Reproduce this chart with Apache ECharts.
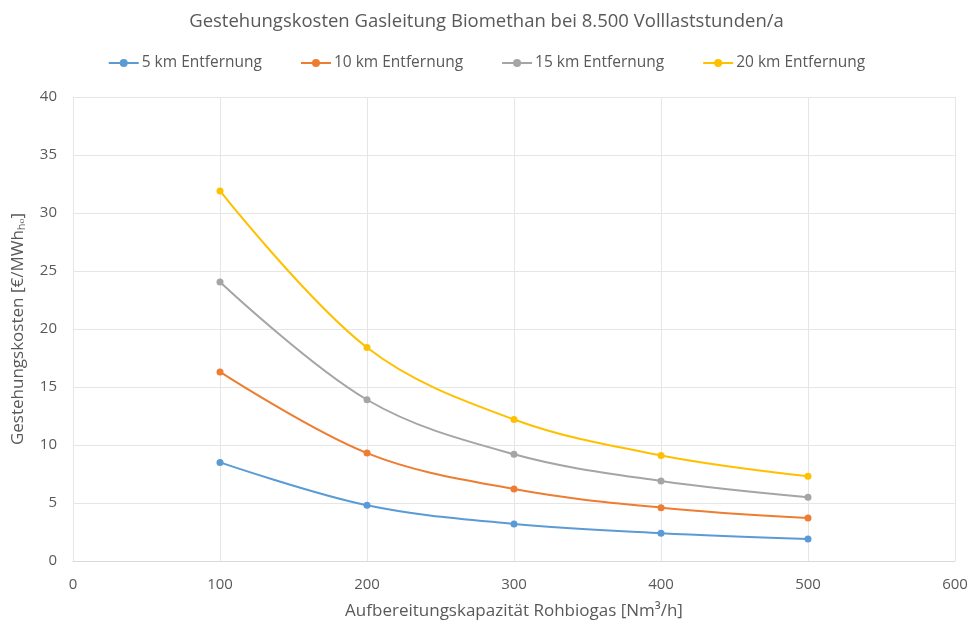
<!DOCTYPE html>
<html><head><meta charset="utf-8">
<script src="https://cdn.jsdelivr.net/npm/echarts@6/dist/echarts.min.js"></script>
<style>html,body{margin:0;padding:0;background:#fff}#c{width:973px;height:626px}</style>
</head><body><div id="c"></div>
<script>
const capacities = [100, 200, 300, 400, 500];
const km5 = [8.5, 4.8, 3.2, 2.4, 1.9];
const km10 = [16.3, 9.3, 6.2, 4.6, 3.7];
const km15 = [24.05, 13.9, 9.2, 6.9, 5.5];
const km20 = [31.9, 18.4, 12.2, 9.1, 7.3];
const seriesNames = ['5 km Entfernung', '10 km Entfernung', '15 km Entfernung', '20 km Entfernung'];
const colors = ['#5b9bd5', '#ed7d31', '#a5a5a5', '#ffc000'];
const allData = [km5, km10, km15, km20];
const FONT = 'Open Sans';
const chart = echarts.init(document.getElementById('c'));
chart.setOption({
  animation: false,
  title: { text: 'Gestehungskosten Gasleitung Biomethan bei 8.500 Volllaststunden/a', left: 'center', top: 7,
    textStyle: { fontFamily: FONT, fontSize: 18.5, fontWeight: 'normal', color: '#595959' } },
  legend: { top: 50, left: 'center', itemGap: 38, itemWidth: 30, itemHeight: 10,
    textStyle: { fontFamily: FONT, fontSize: 15.5, color: '#595959', padding: [0,0,0,-2] },
    data: seriesNames },
  grid: { left: 73, right: 18, top: 97, bottom: 65, containLabel: false },
  xAxis: { type: 'value', min: 0, max: 600, interval: 100,
    name: 'Aufbereitungskapazität Rohbiogas [Nm³/h]', nameLocation: 'middle', nameGap: 42,
    nameTextStyle: { fontFamily: FONT, fontSize: 17, color: '#595959' },
    axisLine: { show: true, lineStyle: { color: '#d9d9d9' } }, axisTick: { show: false },
    axisLabel: { fontFamily: FONT, fontSize: 15, color: '#595959', margin: 16 },
    splitLine: { show: true, lineStyle: { color: '#e6e6e6' } } },
  yAxis: { type: 'value', min: 0, max: 40, interval: 5,
    name: 'Gestehungskosten [€/MWhₕₒ]', nameLocation: 'middle', nameGap: 46,
    nameTextStyle: { fontFamily: FONT, fontSize: 17, color: '#595959' },
    axisLine: { show: false }, axisTick: { show: false },
    axisLabel: { fontFamily: FONT, fontSize: 15, color: '#595959', margin: 16 },
    splitLine: { lineStyle: { color: '#e6e6e6' } } },
  series: allData.map((d, i) => ({
    name: seriesNames[i], type: 'line', smooth: 0.35,
    data: d.map((v, j) => [capacities[j], v]),
    symbol: 'circle', symbolSize: 7, color: colors[i],
    lineStyle: { width: 2, color: colors[i] }, itemStyle: { color: colors[i] }
  }))
});
</script></body></html>
